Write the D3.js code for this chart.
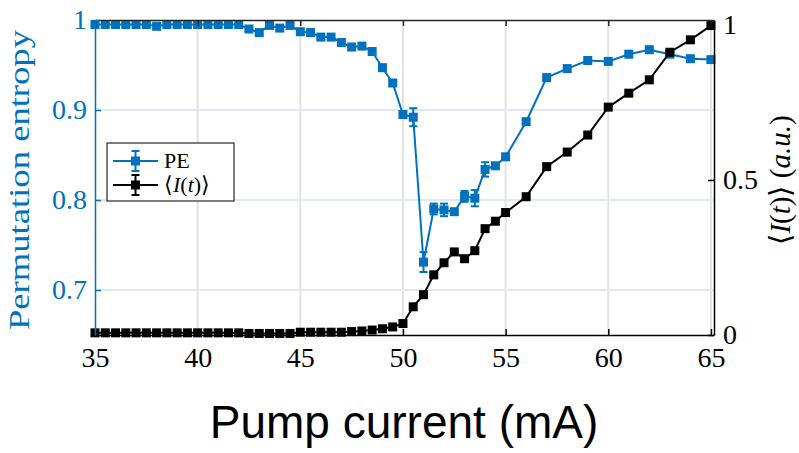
<!DOCTYPE html>
<html><head><meta charset="utf-8">
<script src="https://cdn.jsdelivr.net/npm/d3@7"></script>
<style>body{margin:0;background:#fff}svg{display:block}</style>
</head><body>
<svg id="chart" width="799" height="453"></svg>
<script>
// ---- data ----
const current = [35,35.5,36,36.5,37,37.5,38,38.5,39,39.5,40,40.5,41,41.5,42,42.5,43,43.5,44,44.5,
  45,45.5,46,46.5,47,47.5,48,48.5,49,49.5,50,50.5,51,51.5,52,52.5,53,53.5,54,54.5,55,56,57,58,59,60,61,62,63,64,65];
const pe = [0.995,0.995,0.995,0.995,0.995,0.995,0.993,0.995,0.995,0.995,0.995,0.995,0.995,0.995,0.995,0.990,0.986,0.994,0.991,0.994,
  0.987,0.986,0.981,0.981,0.975,0.970,0.971,0.965,0.947,0.930,0.895,0.892,0.731,0.790,0.789,0.787,0.804,0.802,0.834,0.838,0.848,
  0.887,0.936,0.946,0.955,0.954,0.962,0.967,0.962,0.957,0.956];
const peErr = [0,0,0,0,0,0,0,0,0,0,0,0,0,0,0,0,0,0,0,0,
  0,0,0,0,0,0,0,0,0,0,0,0.010,0.011,0.006,0.007,0,0.006,0.009,0.008,0,0,
  0,0,0,0,0,0,0,0,0,0];
const intensity = [0.007,0.007,0.007,0.007,0.007,0.007,0.007,0.007,0.007,0.007,0.007,0.007,0.007,0.007,0.007,0.005,0.005,0.005,0.005,0.005,
  0.009,0.009,0.009,0.009,0.009,0.011,0.013,0.016,0.020,0.026,0.037,0.091,0.130,0.194,0.233,0.268,0.246,0.272,0.343,0.367,0.395,
  0.446,0.543,0.590,0.645,0.735,0.780,0.823,0.912,0.952,0.998];
const xTicks = [35,40,45,50,55,60,65];
const peTicks = [0.7,0.8,0.9,1];
const iTicks = [0,0.5,1];

// ---- layout ----
const BLUE = "#0072bd";
const svg = d3.select("#chart");
const L = 95, R = 714, T = 20, B = 335;
const x = d3.scaleLinear().domain([35, 65.15]).range([L, R]);
const yPE = d3.scaleLinear().domain([0.65, 1.0]).range([B, T]);
const yI = d3.scaleLinear().domain([0, 1.016]).range([B, T]);
const serif = "'Liberation Serif', 'Times New Roman', serif";

// grid
svg.append("g").selectAll("line").data(xTicks.slice(1)).join("line")
  .attr("x1", d => x(d)).attr("x2", d => x(d)).attr("y1", T).attr("y2", B)
  .attr("stroke", "#e2e2e2").attr("stroke-width", 2);
svg.append("g").selectAll("line").data(peTicks.slice(0, 3)).join("line")
  .attr("x1", L).attr("x2", R).attr("y1", d => yPE(d)).attr("y2", d => yPE(d))
  .attr("stroke", "#dbe9f6").attr("stroke-width", 2);

// series PE
const linePE = d3.line().x((d, i) => x(current[i])).y(d => yPE(d));
svg.append("path").datum(pe).attr("d", linePE).attr("fill", "none")
  .attr("stroke", BLUE).attr("stroke-width", 2);
const eb = svg.append("g").attr("stroke", BLUE).attr("stroke-width", 2);
pe.forEach((v, i) => {
  const e = peErr[i]; if (!e) return;
  const cx = x(current[i]);
  eb.append("line").attr("x1", cx).attr("x2", cx).attr("y1", yPE(v - e)).attr("y2", yPE(v + e));
  [v - e, v + e].forEach(w => eb.append("line").attr("x1", cx - 4).attr("x2", cx + 4).attr("y1", yPE(w)).attr("y2", yPE(w)));
});
svg.append("g").selectAll("rect").data(pe).join("rect")
  .attr("x", (d, i) => x(current[i]) - 4.5).attr("y", d => yPE(d) - 4.5)
  .attr("width", 9).attr("height", 9).attr("fill", BLUE);

// series intensity
const lineI = d3.line().x((d, i) => x(current[i])).y(d => yI(d));
svg.append("path").datum(intensity).attr("d", lineI).attr("fill", "none")
  .attr("stroke", "#000").attr("stroke-width", 2);
svg.append("g").selectAll("rect").data(intensity).join("rect")
  .attr("x", (d, i) => x(current[i]) - 4.5).attr("y", d => yI(d) - 4.5)
  .attr("width", 9).attr("height", 9).attr("fill", "#000");

// axes
function style(g, color) {
  g.attr("font-family", serif);
  g.selectAll("path.domain").attr("stroke", color).attr("stroke-width", 1.5);
  g.selectAll(".tick line").attr("stroke", color).attr("stroke-width", 1.5);
  g.selectAll(".tick text").attr("fill", color).attr("font-family", serif).attr("font-size", 28);
}
const gTop = svg.append("g").attr("transform", `translate(0,${T})`)
  .call(d3.axisTop(x).tickValues(xTicks).tickFormat("").tickSizeInner(-6).tickSizeOuter(0));
style(gTop, "#262626");
const gBot = svg.append("g").attr("transform", `translate(0,${B})`)
  .call(d3.axisBottom(x).tickValues(xTicks).tickFormat(d3.format("d")).tickSizeInner(-6).tickSizeOuter(0).tickPadding(12));
style(gBot, "#000");
const gR = svg.append("g").attr("transform", `translate(${R},0)`)
  .call(d3.axisRight(yI).tickValues(iTicks).tickFormat(d => d === 0.5 ? "0.5" : String(d)).tickSizeInner(-6).tickSizeOuter(0).tickPadding(9));
style(gR, "#000");
const gL = svg.append("g").attr("transform", `translate(${L},0)`)
  .call(d3.axisLeft(yPE).tickValues(peTicks).tickFormat(d => d === 1 ? "1" : d3.format(".1f")(d)).tickSizeInner(-6).tickSizeOuter(0).tickPadding(8));
style(gL, BLUE);

// axis titles
svg.append("text").attr("transform", "translate(29,180) rotate(-90)")
  .attr("text-anchor", "middle").attr("font-family", serif).attr("font-size", 30)
  .attr("fill", BLUE).attr("textLength", 300).attr("lengthAdjust", "spacingAndGlyphs")
  .text("Permutation entropy");
const rt = svg.append("text").attr("transform", "translate(790,180) rotate(-90)")
  .attr("text-anchor", "middle").attr("font-family", serif).attr("font-size", 29).attr("fill", "#000");
rt.append("tspan").text("\u27E8");
rt.append("tspan").attr("font-style", "italic").text("I");
rt.append("tspan").text("(");
rt.append("tspan").attr("font-style", "italic").text("t");
rt.append("tspan").text(")\u27E9 (");
rt.append("tspan").attr("font-style", "italic").text("a.u.");
rt.append("tspan").text(")");

svg.append("text").attr("x", 404).attr("y", 438).attr("text-anchor", "middle")
  .attr("font-family", "'Liberation Sans', Arial, sans-serif").attr("font-size", 46).attr("fill", "#000")
  .text("Pump current (mA)");

// legend
const lg = svg.append("g");
lg.append("rect").attr("x", 107).attr("y", 143).attr("width", 127).attr("height", 58)
  .attr("fill", "#fff").attr("stroke", "#262626").attr("stroke-width", 1.2);
const items = [{label: "PE", color: BLUE, y: 161}, {label: "I", color: "#000", y: 185}];
items.forEach((it, k) => {
  lg.append("line").attr("x1", 113).attr("x2", 158).attr("y1", it.y).attr("y2", it.y)
    .attr("stroke", it.color).attr("stroke-width", 2);
  lg.append("line").attr("x1", 135.5).attr("x2", 135.5).attr("y1", it.y - 10).attr("y2", it.y + 10)
    .attr("stroke", it.color).attr("stroke-width", 2);
  [it.y - 10, it.y + 10].forEach(w => lg.append("line").attr("x1", 131.5).attr("x2", 139.5).attr("y1", w).attr("y2", w)
    .attr("stroke", it.color).attr("stroke-width", 2));
  lg.append("rect").attr("x", 131).attr("y", it.y - 4.5).attr("width", 9).attr("height", 9).attr("fill", it.color);
  const t = lg.append("text").attr("x", 164).attr("y", it.y + 7).attr("font-family", serif)
    .attr("font-size", 22).attr("fill", "#000");
  if (k === 0) t.text("PE");
  else {
    t.append("tspan").text("\u27E8");
    t.append("tspan").attr("font-style", "italic").text("I");
    t.append("tspan").text("(");
    t.append("tspan").attr("font-style", "italic").text("t");
    t.append("tspan").text(")\u27E9");
  }
});
</script>
</body></html>
